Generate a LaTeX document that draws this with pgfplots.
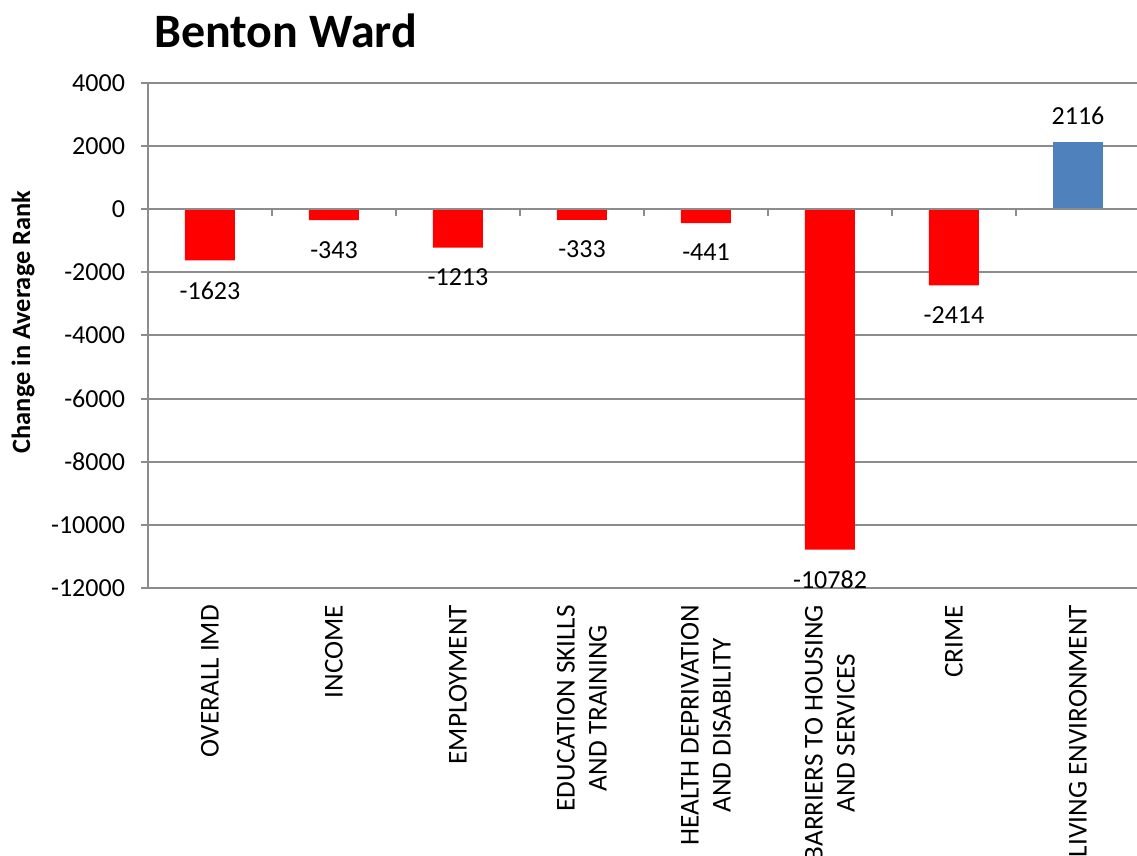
\documentclass[border=0pt]{standalone}
\usepackage{fontspec}
\setmainfont{Carlito}
\usepackage{pgfplots}
\pgfplotsset{compat=1.18}
\definecolor{barred}{HTML}{FF0000}
\definecolor{barblue}{HTML}{4F81BD}
\definecolor{gridgray}{HTML}{8C8C8C}
\begin{document}
\begin{tikzpicture}
\useasboundingbox (0,0) rectangle (568.5pt,428pt);
\node[anchor=base west, font=\fontsize{24}{28}\selectfont\bfseries, inner sep=0pt] at (77pt,404pt) {Benton Ward};
\node[rotate=90, font=\fontsize{13.2}{15}\selectfont\bfseries, inner sep=0pt] at (11.5pt,267pt) {Change in Average Rank};
\begin{axis}[
  at={(74pt,134pt)}, anchor=south west,
  width=496pt, height=252.5pt, scale only axis,
  xmin=-0.5, xmax=7.5, ymin=-12000, ymax=4000,
  ytick={-12000,-10000,-8000,-6000,-4000,-2000,0,2000,4000},
  scaled y ticks=false,
  /pgf/number format/assume math mode=true,
  /pgf/number format/1000 sep={},
  axis lines*=left,
  x axis line style={draw=none},
  y axis line style={draw=gridgray, line width=1pt},
  ymajorgrids, grid style={draw=gridgray, line width=1pt},
  tick align=outside,
  ytick style={draw=gridgray, line width=1pt},
  major tick length=3.5pt,
  xtick={0,1,2,3,4,5,6,7},
  xtick style={draw=none},
  xticklabels={OVERALL IMD, INCOME, EMPLOYMENT, {EDUCATION SKILLS\\AND TRAINING}, {HEALTH DEPRIVATION\\AND DISABILITY}, {BARRIERS TO HOUSING\\AND SERVICES}, CRIME, LIVING ENVIRONMENT},
  xticklabel style={yshift=-1.5pt, rotate=90, anchor=east, align=center, font=\fontsize{13.6}{16}\selectfont},
  yticklabel style={font=\fontsize{13}{15}\selectfont, xshift=-4.5pt},
  ybar, bar width=25pt,
  nodes near coords,
  every node near coord/.append style={font=\fontsize{13}{15}\selectfont, black},
  clip=false,
]
\addplot[fill=barred, draw=none, bar shift=0pt,
  every node near coord/.append style={anchor=north, yshift=-7pt}]
  coordinates {(0,-1623) (1,-343) (2,-1213) (3,-333) (4,-441) (5,-10782) (6,-2414)};
\addplot[fill=barblue, draw=none, bar shift=0pt,
  every node near coord/.append style={anchor=south, yshift=5.5pt}]
  coordinates {(7,2116)};
\draw[gridgray, line width=1pt] (axis cs:-0.5,0) -- (axis cs:7.5,0);
\draw[gridgray, line width=1pt] (axis cs:0.5,0) -- ([yshift=-3.5pt]axis cs:0.5,0);
\draw[gridgray, line width=1pt] (axis cs:1.5,0) -- ([yshift=-3.5pt]axis cs:1.5,0);
\draw[gridgray, line width=1pt] (axis cs:2.5,0) -- ([yshift=-3.5pt]axis cs:2.5,0);
\draw[gridgray, line width=1pt] (axis cs:3.5,0) -- ([yshift=-3.5pt]axis cs:3.5,0);
\draw[gridgray, line width=1pt] (axis cs:4.5,0) -- ([yshift=-3.5pt]axis cs:4.5,0);
\draw[gridgray, line width=1pt] (axis cs:5.5,0) -- ([yshift=-3.5pt]axis cs:5.5,0);
\draw[gridgray, line width=1pt] (axis cs:6.5,0) -- ([yshift=-3.5pt]axis cs:6.5,0);
\end{axis}
\end{tikzpicture}
\end{document}
